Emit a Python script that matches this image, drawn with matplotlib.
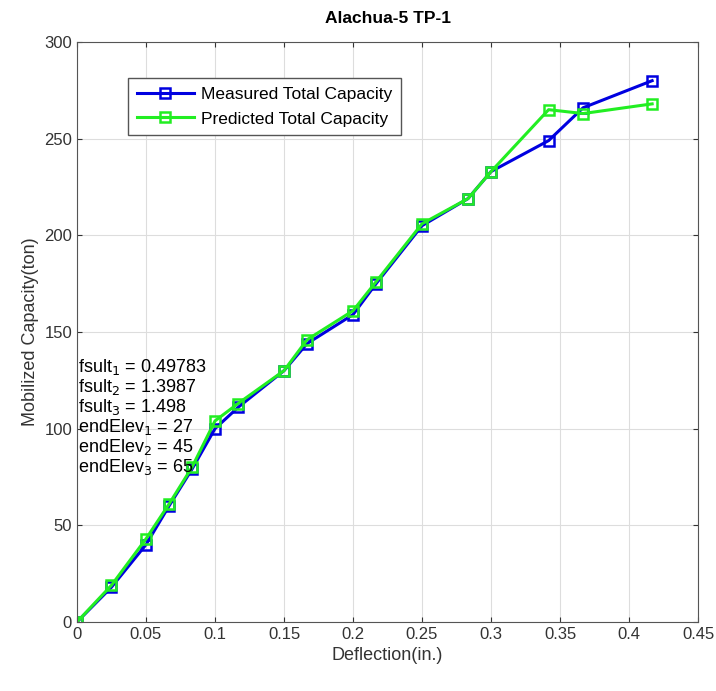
import matplotlib.pyplot as plt
import numpy as np

plt.rcParams['font.family'] = ['Liberation Sans', 'DejaVu Sans']

# Deflection (in.) and capacities (ton)
deflection = [0, 0.025, 0.05, 0.0667, 0.0833, 0.1, 0.1167, 0.15, 0.1667,
              0.2, 0.2167, 0.25, 0.2833, 0.3, 0.3417, 0.3667, 0.4167]
measured = [0, 18, 40, 60, 79, 100, 111, 130, 144, 159, 175, 205, 219, 233,
            249, 266, 280]
predicted = [0, 19, 43, 61, 80, 104, 113, 130, 146, 161, 176, 206, 219, 233,
             265, 263, 268]

param_names = ['fsult', 'fsult', 'fsult', 'endElev', 'endElev', 'endElev']
param_idx = [1, 2, 3, 1, 2, 3]
param_vals = ['0.49783', '1.3987', '1.498', '27', '45', '65']

fig = plt.figure(figsize=(7.16, 6.91), dpi=100)
ax = fig.add_axes([0.1075, 0.0999, 0.8675, 0.8393])

ax.plot(deflection, measured, color='#0000e0', lw=2.2, marker='s', ms=7.5,
        mfc='none', mew=1.8, label='Measured Total Capacity')
ax.plot(deflection, predicted, color='#22ee22', lw=2.2, marker='s', ms=7.5,
        mfc='none', mew=1.8, label='Predicted Total Capacity')

ax.set_xlim(0, 0.45)
ax.set_ylim(0, 300)
ax.set_xticks(np.arange(0, 0.451, 0.05))
ax.set_xticklabels(['0', '0.05', '0.1', '0.15', '0.2', '0.25', '0.3', '0.35', '0.4', '0.45'])
ax.set_yticks(np.arange(0, 301, 50))
ax.grid(True, color='#dddddd', lw=0.8)
ax.tick_params(direction='in', top=True, right=True, labelsize=12, colors='#333333')
for s in ax.spines.values():
    s.set_color('#555555')

ax.set_xlabel('Deflection(in.)', fontsize=13, color='#333333')
ax.set_ylabel('Mobilized Capacity(ton)', fontsize=13, color='#333333')
ax.set_title('Alachua-5 TP-1', fontsize=12.5, fontweight='bold', pad=14)

leg = ax.legend(loc='upper left', bbox_to_anchor=(0.082, 0.938), fontsize=12.5,
                fancybox=False, edgecolor='#555555', framealpha=1,
                handlelength=3.3, borderpad=0.5, labelspacing=0.55,
                handletextpad=0.4, borderaxespad=0)

y0 = 132
for i in range(len(param_names)):
    ax.text(0.0005, y0 - i * 10.4,
            param_names[i] + r'$_{%d}$' % param_idx[i] + ' = ' + param_vals[i],
            fontsize=13, va='center', ha='left')

fig.savefig('out.png', dpi=100)
